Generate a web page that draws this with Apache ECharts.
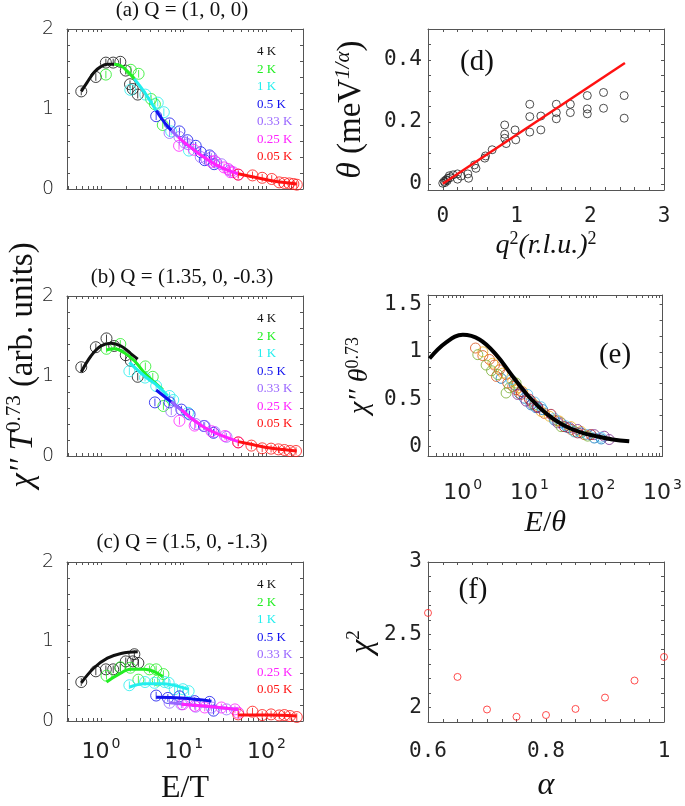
<!DOCTYPE html>
<html>
<head>
<meta charset="utf-8">
<script src="https://cdn.jsdelivr.net/npm/echarts/dist/echarts.min.js"></script>
<style>
  html, body { margin: 0; padding: 0; background: #fff; }
  #chart { width: 685px; height: 806px; }
</style>
</head>
<body>
<div id="chart"></div>
<script>
// temperatures shown in the small legends of panels a-c
const temps = ['4 K', '2 K', '1 K', '0.5 K', '0.33 K', '0.25 K', '0.05 K'];
const tempColors = ['#111111', '#22ee22', '#22eeee', '#1111ee', '#9966ff', '#ff22ff', '#ff1111'];

// (a) Q = (1,0,0) : [E/T, chi'' T^0.73] per temperature
const aPts = [
  [[0.58,1.22],[0.87,1.40],[1.15,1.58],[1.41,1.58],[1.72,1.59],[2.0,1.48],[2.25,1.31],[2.43,1.25],[2.79,1.18]],
  [[1.15,1.43],[2.3,1.49],[2.86,1.44],[4.05,1.125],[4.5,1.06],[5.6,0.80]],
  [[2.27,1.24],[3.45,1.18],[4.87,1.08],[5.77,0.96],[7.08,0.72],[11.6,0.48]],
  [[4.66,0.91],[6.76,0.82],[8.9,0.72],[11.1,0.61],[14.0,0.54],[16.1,0.46],[18.0,0.36],[20.6,0.42],[23.4,0.31]],
  [[6.76,0.70],[8.9,0.65],[10.3,0.58],[11.3,0.56],[16.1,0.40],[18.8,0.375],[21.7,0.40],[24.9,0.33],[28.6,0.31],[36.3,0.23]],
  [[8.8,0.54],[13.3,0.49],[21.7,0.34],[23.7,0.35],[30.8,0.27],[34.5,0.25],[36.8,0.21],[39.6,0.21],[45.7,0.18]],
  [[45.7,0.18],[68,0.17],[89,0.14],[116,0.125],[143,0.083],[165,0.075],[189,0.07],[212,0.0625],[233,0.054]]
];
const aFits = [
  [[0.58,1.22],[0.68,1.33],[0.83,1.46],[1.0,1.53],[1.2,1.56],[1.45,1.56]],
  [[1.45,1.56],[1.75,1.54],[2.1,1.47],[2.54,1.375]],
  [[2.54,1.375],[3.36,1.21],[4.66,0.98]],
  [[4.66,0.98],[5.9,0.83],[7.1,0.73]],
  [[7.1,0.73],[8.6,0.65]],
  [[8.6,0.65],[10.3,0.58],[16.4,0.42],[26.1,0.29],[45.7,0.19]],
  [[45.7,0.19],[73,0.146],[127,0.096],[233,0.0625]]
];

// (b) Q = (1.35,0,-0.3)
const bPts = [
  [[0.58,1.11],[0.87,1.36],[1.17,1.47],[1.45,1.375],[2.0,1.26],[2.3,1.19],[2.79,0.99]],
  [[1.17,1.34],[1.72,1.40],[3.45,1.12],[4.24,0.99],[5.7,0.625]],
  [[2.21,1.06],[3.42,0.98],[4.66,0.875],[6.76,0.75],[7.5,0.70],[11.3,0.54]],
  [[4.5,0.67],[6.76,0.67],[9.4,0.58],[11.8,0.52],[17.6,0.375],[23,0.29]],
  [[7.1,0.56],[14,0.40],[18,0.375],[23.7,0.30],[33,0.24]],
  [[8.9,0.44],[13.6,0.38],[21.7,0.31],[31.6,0.25],[45.7,0.17]],
  [[45.7,0.17],[66,0.13],[89,0.096],[114,0.092],[140,0.083],[165,0.075],[193,0.0625],[228,0.0625]]
];
const bFits = [
  [[0.58,1.05],[0.76,1.25],[1.0,1.375],[1.32,1.41],[1.75,1.375],[2.3,1.28],[2.79,1.21]],
  [[1.17,1.325],[1.45,1.34],[1.92,1.29],[2.54,1.19],[3.36,1.04],[4.44,0.92],[5.6,0.83]],
  [[2.21,1.17],[3.36,1.0],[4.87,0.875],[6.45,0.75]],
  [[4.66,0.825],[6.45,0.71],[9.4,0.58]],
  [[7.1,0.68],[10,0.55],[14,0.43]],
  [[9.4,0.58],[13.6,0.44],[21.7,0.31],[45.7,0.18]],
  [[45.7,0.18],[70,0.14],[106,0.104],[160,0.08],[233,0.0625]]
];

// (c) Q = (1.5,0,-1.3)
const cPts = [
  [[0.58,0.49],[0.87,0.625],[1.15,0.65],[1.41,0.65],[1.72,0.67],[2.0,0.75],[2.43,0.75],[2.54,0.84],[2.84,0.73]],
  [[1.17,0.57],[1.72,0.675],[2.27,0.67],[2.84,0.52],[3.87,0.65],[4.66,0.65],[4.87,0.51],[5.7,0.59]],
  [[2.21,0.45],[3.42,0.49],[4.44,0.48],[5.9,0.49],[6.6,0.48],[7.8,0.40],[9.8,0.40],[11.5,0.375]],
  [[4.66,0.32],[6.45,0.29],[8.9,0.31],[13.6,0.25],[20.6,0.24],[23,0.13]],
  [[6.76,0.23],[9.4,0.21],[14,0.18],[21.7,0.17],[33,0.146]],
  [[9.8,0.21],[13.6,0.19],[18,0.17],[28.6,0.17],[41.7,0.146],[45.7,0.104]],
  [[45.7,0.083],[68,0.117],[89,0.075],[114,0.083],[143,0.07],[165,0.075],[193,0.0625],[233,0.05]]
];
const cFits = [
  [[0.58,0.48],[0.83,0.67],[1.2,0.79],[1.75,0.85],[2.79,0.87]],
  [[1.17,0.49],[1.6,0.58],[2.3,0.65],[3.36,0.65],[5.6,0.56]],
  [[2.21,0.425],[3.36,0.47],[5.35,0.47],[11.3,0.40]],
  [[4.66,0.30],[9.4,0.29],[21.7,0.25]],
  [[6.76,0.23],[16.4,0.19],[45.7,0.146]],
  [[9.4,0.21],[21.7,0.18],[45.7,0.146]],
  [[45.7,0.075],[106,0.075],[233,0.0625]]
];

// (d) theta vs q^2
const dPts = [
  [0,0.002],[0.02,0.008],[0.03,0.004],[0.045,0.013],[0.06,0.01],[0.07,0.018],[0.09,0.026],[0.1,0.02],
  [0.14,0.029],[0.2,0.032],[0.2,0.015],[0.25,0.025],[0.34,0.032],[0.35,0.018],[0.43,0.061],[0.45,0.05],
  [0.57,0.083],[0.58,0.09],[0.67,0.11],[0.84,0.19],[0.84,0.16],[0.84,0.147],[0.86,0.13],[0.98,0.174],
  [0.99,0.142],[1.18,0.257],[1.18,0.217],[1.18,0.167],[1.33,0.219],[1.33,0.174],[1.54,0.257],[1.54,0.23],
  [1.54,0.21],[1.73,0.257],[1.73,0.23],[1.96,0.285],[1.96,0.242],[1.96,0.226],[2.18,0.295],[2.18,0.244],
  [2.46,0.285],[2.46,0.212]
];
const dFit = [[0, 0], [2.47, 0.39]];

// (e) scaling collapse: seven data sets + universal curve
const eSets = [
  [[3.76,0.72],[5.96,0.65],[7.1,0.56],[8.41,0.51],[10.6,0.44],[12.6,0.41],[15.8,0.39],[23.7,0.28],[30,0.25],[37.6,0.20],[59.6,0.144],[94.4,0.09],[120,0.08]],
  [[1.55,1.04],[2.0,0.96],[2.51,0.92],[2.99,0.86],[3.55,0.81],[3.2,0.74],[4.47,0.76],[4.73,0.67],[5.62,0.635],[6.3,0.60],[7.5,0.55],[10.6,0.48],[16.8,0.35],[26.6,0.27],[42.2,0.18],[66.8,0.126]],
  [[2.0,1.0],[2.82,0.88],[3.98,0.775],[5.62,0.69],[6.7,0.62],[7.94,0.58],[15.0,0.37],[20,0.32],[28.2,0.27],[42.2,0.21],[59.6,0.16]],
  [[6.68,0.55],[8.91,0.48],[11,0.45],[13.3,0.41],[26.6,0.25],[40,0.2],[53.1,0.18],[94.4,0.126],[133,0.109],[158,0.074]],
  [[1.68,0.97],[2.24,0.86],[2.7,0.80],[3.35,0.76],[4.47,0.565],[5.0,0.62],[6.31,0.67],[11.9,0.44],[29.9,0.21],[47.3,0.16],[75.0,0.11]],
  [[5.31,0.705],[9.44,0.55],[12,0.47],[15.0,0.42],[23.7,0.30],[35,0.22],[47.3,0.154],[75.0,0.126],[119,0.098]],
  [[7.5,0.58],[10,0.5],[13.3,0.42],[21.1,0.34],[33.5,0.21],[53.1,0.144],[84.1,0.126]]
];
const eSetColors = ['#0072BD', '#D95319', '#EDB120', '#7E2F8E', '#77AC30', '#4DBEEE', '#A2142F'];
const eCurveX = [0.316, 0.562, 1, 1.78, 3.16, 5.62, 10, 17.8, 31.6, 56.2, 100, 178, 316];
const eCurveY = [0.93, 1.10, 1.18, 1.13, 0.97, 0.74, 0.52, 0.35, 0.23, 0.155, 0.11, 0.075, 0.056];

// (f) chi^2 vs alpha
const fAlpha = [0.6, 0.65, 0.7, 0.75, 0.8, 0.85, 0.9, 0.95, 1.0];
const fChi2 = [2.65, 2.21, 1.986, 1.936, 1.948, 1.99, 2.068, 2.185, 2.347];

// tick positions / labels
const range = (a, b, s) => { const r = []; for (let v = a; v <= b + s / 1000; v += s) r.push(Math.round(v * 10000) / 10000); return r; };
const abcLogTicks = [0.4,0.5,0.6,0.7,0.8,0.9,1,2,3,4,5,6,7,8,9,10,20,30,40,50,60,70,80,90,100,200];
const abcLogLabels = [1, 10, 100];
const eLogTicks = [0.3,0.4,0.5,0.6,0.7,0.8,0.9,1,2,3,4,5,6,7,8,9,10,20,30,40,50,60,70,80,90,100,200,300,400,500,600,700,800,900,1000];
const eLogLabels = [1, 10, 100, 1000];

const serif = "'Liberation Serif', 'DejaVu Serif', serif";
const mono = "'DejaVu Sans Mono', monospace";
const sans = "'DejaVu Sans', sans-serif";
const frame = '#555';

const grids = [
  { left: 67, top: 29, width: 236, height: 160 },
  { left: 67, top: 296, width: 236, height: 160 },
  { left: 67, top: 562, width: 236, height: 160 },
  { left: 428, top: 29, width: 236, height: 161 },
  { left: 428, top: 295, width: 236, height: 161 },
  { left: 428, top: 562, width: 236, height: 160 }
];

const powLabel = v => '{b|10}{s|' + Math.round(Math.log10(v)) + '}';
const powRich = {
  b: { fontFamily: sans, fontSize: 22, color: '#222' },
  s: { fontFamily: sans, fontSize: 14, color: '#222', padding: [0, 0, 16, 2] }
};

function makeAxis(o) {
  const ax = {
    type: o.type || 'value', gridIndex: o.grid, position: o.pos,
    min: o.min, max: o.max,
    axisLine: { show: true, onZero: false, lineStyle: { color: frame, width: 1 } },
    axisTick: { show: true, inside: true, length: 3, customValues: o.ticks, lineStyle: { color: frame } },
    axisLabel: { show: false },
    splitLine: { show: false }
  };
  if (o.type === 'log') ax.logBase = 10;
  if (o.labels) {
    ax.axisLabel = Object.assign({ show: true, customValues: o.labels, formatter: o.fmt || (v => String(v)) }, o.labelStyle);
  }
  if (o.name) {
    ax.name = o.name; ax.nameLocation = 'middle'; ax.nameGap = o.nameGap;
    ax.nameRotate = o.nameRotate; ax.nameTextStyle = o.nameStyle;
  }
  return ax;
}

const abcYStyle = { fontFamily: sans, fontSize: 19, fontWeight: 200, color: '#222', margin: 13 };
const monoStyle = (m) => ({ fontFamily: mono, fontSize: 21, color: '#222', margin: m });

const xAxes = [], yAxes = [];
[0, 1, 2].forEach(g => {
  xAxes.push(makeAxis({ type: 'log', grid: g, pos: 'bottom', min: 0.39, max: 277, ticks: abcLogTicks,
    labels: g === 2 ? abcLogLabels : null, fmt: powLabel,
    labelStyle: { margin: 16, rich: powRich },
    name: g === 2 ? 'E/T' : null, nameGap: 52, nameStyle: { fontFamily: serif, fontSize: 32, color: '#111' } }));
  xAxes.push(makeAxis({ type: 'log', grid: g, pos: 'top', min: 0.39, max: 277, ticks: abcLogTicks }));
  yAxes.push(makeAxis({ grid: g, pos: 'left', min: 0, max: 2, ticks: range(0, 2, 0.2), labels: [0, 1, 2], labelStyle: abcYStyle }));
  yAxes.push(makeAxis({ grid: g, pos: 'right', min: 0, max: 2, ticks: range(0, 2, 0.2) }));
});

// (d)
xAxes.push(makeAxis({ grid: 3, pos: 'bottom', min: -0.2, max: 3, ticks: range(-0.2, 3, 0.2), labels: [0, 1, 2, 3],
  labelStyle: monoStyle(16),
  name: '{i|q}{s|2}{i|(r.l.u.)}{s|2}', nameGap: 40,
  nameStyle: { rich: {
    i: { fontFamily: serif, fontStyle: 'italic', fontSize: 28, color: '#111' },
    s: { fontFamily: serif, fontSize: 18, color: '#111', padding: [0, 0, 14, 0] } } } }));
xAxes.push(makeAxis({ grid: 3, pos: 'top', min: -0.2, max: 3, ticks: range(-0.2, 3, 0.2) }));
yAxes.push(makeAxis({ grid: 3, pos: 'left', min: -0.02, max: 0.5, ticks: range(0, 0.5, 0.05), labels: [0, 0.2, 0.4],
  labelStyle: monoStyle(6),
  name: '{i|θ}{n| (meV}{s|1/α}{n|)}', nameGap: 58, nameRotate: 90,
  nameStyle: { rich: {
    i: { fontFamily: serif, fontStyle: 'italic', fontSize: 33, color: '#111' },
    n: { fontFamily: serif, fontSize: 33, color: '#111' },
    s: { fontFamily: serif, fontSize: 21, fontStyle: 'italic', color: '#111', padding: [0, 0, 16, 0] } } } }));
yAxes.push(makeAxis({ grid: 3, pos: 'right', min: -0.02, max: 0.5, ticks: range(0, 0.5, 0.05) }));

// (e)
xAxes.push(makeAxis({ type: 'log', grid: 4, pos: 'bottom', min: 0.3, max: 1000, ticks: eLogTicks, labels: eLogLabels,
  fmt: powLabel, labelStyle: { margin: 22, rich: powRich },
  name: '{i|E}{n|/}{i|θ}', nameGap: 52,
  nameStyle: { rich: {
    i: { fontFamily: serif, fontStyle: 'italic', fontSize: 30, color: '#111' },
    n: { fontFamily: serif, fontSize: 30, color: '#111' } } } }));
xAxes.push(makeAxis({ type: 'log', grid: 4, pos: 'top', min: 0.3, max: 1000, ticks: eLogTicks }));
yAxes.push(makeAxis({ grid: 4, pos: 'left', min: -0.1, max: 1.6, ticks: range(0, 1.5, 0.5 / 3), labels: [0, 0.5, 1, 1.5],
  labelStyle: monoStyle(6),
  name: '{i|χ′′ θ}{s|0.73}', nameGap: 52, nameRotate: 90,
  nameStyle: { rich: {
    i: { fontFamily: serif, fontStyle: 'italic', fontSize: 28, color: '#111' },
    s: { fontFamily: serif, fontSize: 18, color: '#111', padding: [0, 0, 14, 0] } } } }));
yAxes.push(makeAxis({ grid: 4, pos: 'right', min: -0.1, max: 1.6, ticks: range(0, 1.5, 0.5 / 3) }));

// (f)
xAxes.push(makeAxis({ grid: 5, pos: 'bottom', min: 0.6, max: 1, ticks: range(0.6, 1, 0.025), labels: [0.6, 0.8, 1],
  labelStyle: monoStyle(19),
  name: 'α', nameGap: 48, nameStyle: { fontFamily: serif, fontStyle: 'italic', fontSize: 32, color: '#111' } }));
xAxes.push(makeAxis({ grid: 5, pos: 'top', min: 0.6, max: 1, ticks: range(0.6, 1, 0.025) }));
yAxes.push(makeAxis({ grid: 5, pos: 'left', min: 1.9, max: 3, ticks: range(2, 3, 0.1), labels: [2, 2.5, 3],
  labelStyle: monoStyle(6),
  name: '{i|χ}{s|2}', nameGap: 48, nameRotate: 90,
  nameStyle: { rich: {
    i: { fontFamily: serif, fontStyle: 'italic', fontSize: 32, color: '#111' },
    s: { fontFamily: serif, fontSize: 19, color: '#111', padding: [0, 0, 16, 0] } } } }));
yAxes.push(makeAxis({ grid: 5, pos: 'right', min: 1.9, max: 3, ticks: range(2, 3, 0.1) }));

const barCircle = 'path://M0,10A10,10 0 1,1 20,10A10,10 0 1,1 0,10ZM10,3L10,17';
const series = [];
[aPts, bPts, cPts].forEach((pts, g) => {
  pts.forEach((set, k) => series.push({
    type: 'scatter', name: temps[k], xAxisIndex: 2 * g, yAxisIndex: 2 * g, data: set,
    symbol: barCircle, symbolSize: 11, silent: true,
    itemStyle: { color: 'rgba(0,0,0,0)', borderColor: tempColors[k], borderWidth: 1 }
  }));
});
[aFits, bFits, cFits].forEach((fits, g) => {
  fits.forEach((set, k) => series.push({
    type: 'line', name: temps[k] + ' fit', xAxisIndex: 2 * g, yAxisIndex: 2 * g, data: set,
    smooth: 0.4, showSymbol: false, symbol: 'none', silent: true,
    lineStyle: { color: tempColors[k], width: 3 }
  }));
});
series.push({
  type: 'scatter', xAxisIndex: 6, yAxisIndex: 6, data: dPts, symbol: 'circle', symbolSize: 8, silent: true,
  itemStyle: { color: 'rgba(0,0,0,0)', borderColor: '#222', borderWidth: 1 }
});
series.push({
  type: 'line', xAxisIndex: 6, yAxisIndex: 6, data: dFit, showSymbol: false, symbol: 'none', silent: true,
  lineStyle: { color: '#ff1111', width: 2.5 }
});
eSets.forEach((set, k) => series.push({
  type: 'scatter', xAxisIndex: 8, yAxisIndex: 8, data: set, symbol: 'circle', symbolSize: 10, silent: true,
  itemStyle: { color: 'rgba(0,0,0,0)', borderColor: eSetColors[k], borderWidth: 1 }
}));
series.push({
  type: 'line', xAxisIndex: 8, yAxisIndex: 8, data: eCurveX.map((x, i) => [x, eCurveY[i]]),
  smooth: 0.4, showSymbol: false, symbol: 'none', silent: true,
  lineStyle: { color: '#000', width: 4 }
});
series.push({
  type: 'scatter', xAxisIndex: 10, yAxisIndex: 10, data: fAlpha.map((a, i) => [a, fChi2[i]]),
  symbol: 'circle', symbolSize: 7, silent: true,
  itemStyle: { color: 'rgba(0,0,0,0)', borderColor: '#ff2222', borderWidth: 1 }
});

const legends = [40, 307, 573].map(top => ({
  orient: 'vertical', left: 247, top: top, icon: 'none', itemWidth: 0, itemHeight: 14, itemGap: 4,
  selectedMode: false,
  textStyle: { fontFamily: serif, fontSize: 13 },
  data: temps.map((t, k) => ({ name: t, textStyle: { color: tempColors[k] } }))
}));

const txt = (x, y, text, size, extra) => ({
  type: 'text', x: x, y: y, silent: true,
  style: Object.assign({ text: text, fontFamily: serif, fontSize: size, fill: '#111', align: 'center', verticalAlign: 'middle' }, extra || {})
});

const graphics = [
  txt(182, 10, '(a) Q = (1, 0, 0)', 21),
  txt(182, 277, '(b) Q = (1.35, 0, -0.3)', 21),
  txt(182, 542, '(c) Q = (1.5, 0, -1.3)', 21),
  txt(477, 62, '(d)', 29),
  txt(615, 355, '(e)', 29),
  txt(473, 590, '(f)', 29),
  Object.assign(txt(23, 365, '{i|χ′′ T}{s|0.73}{n| (arb. units)}', 33, {
    rich: {
      i: { fontFamily: serif, fontStyle: 'italic', fontSize: 33, fill: '#111' },
      s: { fontFamily: serif, fontSize: 21, fill: '#111', padding: [0, 0, 18, 0] },
      n: { fontFamily: serif, fontSize: 33, fill: '#111' }
    }
  }), { rotation: Math.PI / 2 })
];

const chart = echarts.init(document.getElementById('chart'), null, { renderer: 'canvas' });
chart.setOption({
  animation: false,
  backgroundColor: '#fff',
  grid: grids,
  xAxis: xAxes,
  yAxis: yAxes,
  legend: legends,
  graphic: graphics,
  series: series
});
</script>
</body>
</html>
